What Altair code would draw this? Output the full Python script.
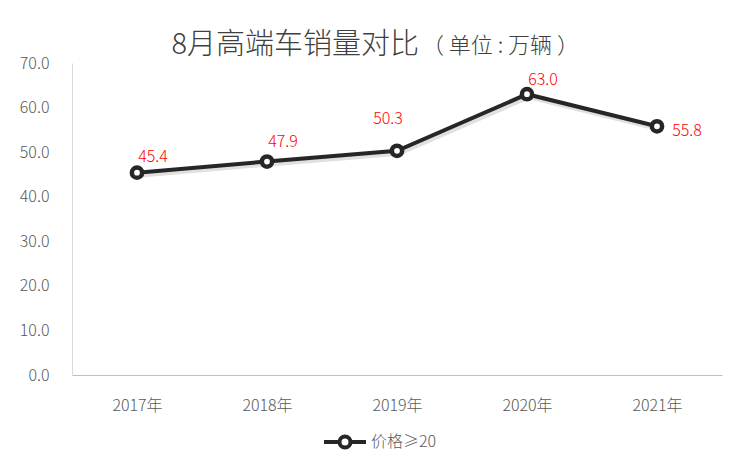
import altair as alt
import pandas as pd

years = ["2017年", "2018年", "2019年", "2020年", "2021年"]
sales = [45.4, 47.9, 50.3, 63.0, 55.8]
series_name = "价格≥20"
label_dx = [16, 16, -9, 16, 30]
label_dy = [-16, -20, -32, -14, 5]

df = pd.DataFrame({
    "year": years,
    "sales": sales,
    "series": [series_name] * len(years),
    "label": [f"{v:.1f}" for v in sales],
})

FONT = "Noto Sans CJK SC"
LINE_COLOR = "#262626"

x_enc = alt.X("year:N", sort=years, title=None,
              scale=alt.Scale(paddingOuter=0.5, paddingInner=0),
              axis=alt.Axis(labelAngle=0, ticks=False, domainColor="#BFBFBF",
                            labelColor="#595959", labelFontSize=16, labelFont=FONT,
                            labelFontWeight=300,
                            labelPadding=22, grid=False))
y_enc = alt.Y("sales:Q", title=None,
              scale=alt.Scale(domain=[0, 70]),
              axis=alt.Axis(values=[0, 10, 20, 30, 40, 50, 60, 70], format=".1f",
                            ticks=False, domainColor="#D9D9D9", grid=False,
                            labelColor="#595959", labelFontSize=16, labelFont=FONT,
                            labelFontWeight=300,
                            labelPadding=23))

base = alt.Chart(df)

shadow = base.mark_line(color="#A6A6A6", strokeWidth=4, opacity=0.35,
                        xOffset=2, yOffset=3).encode(x=x_enc, y=y_enc)

line = base.mark_line(strokeWidth=4).encode(
    x=x_enc, y=y_enc,
    color=alt.Color("series:N", scale=alt.Scale(range=[LINE_COLOR]),
                    legend=alt.Legend(
                        title=None, orient="none", legendX=250, legendY=356,
                        direction="horizontal",
                        symbolType="M-1,0L-0.262,0M0.262,0L1,0M-0.262,0A0.262,0.262,0,1,1,0.262,0A0.262,0.262,0,1,1,-0.262,0",
                        symbolSize=1764, symbolStrokeWidth=4, symbolFillColor="white",
                        symbolStrokeColor=LINE_COLOR,
                        labelFont=FONT, labelFontSize=16, labelFontWeight=300,
                        labelColor="#595959", labelOffset=3)),
)

points = base.mark_point(shape="circle", filled=True, fill="white", stroke=LINE_COLOR,
                         strokeWidth=4.5, size=105, opacity=1).encode(x=x_enc, y=y_enc)

label_layers = []
for i, yr in enumerate(years):
    label_layers.append(
        base.transform_filter(alt.datum.year == yr).mark_text(
            color="#FF0000", fontSize=16, font=FONT, fontWeight=300,
            dx=label_dx[i], dy=label_dy[i],
            baseline="middle", align="center"
        ).encode(x=x_enc, y=y_enc, text="label:N")
    )

title_main = alt.Chart(pd.DataFrame({"t": ["8月高端车销量对比"]})).mark_text(
    fontSize=29, font=FONT, fontWeight=300, color="#404040", align="right", baseline="middle"
).encode(x=alt.value(347), y=alt.value(-18), text="t:N")

title_unit = alt.Chart(pd.DataFrame({"t": ["（ 单位 : 万辆 ）"]})).mark_text(
    fontSize=22, font=FONT, fontWeight=300, color="#404040", align="left", baseline="middle"
).encode(x=alt.value(350), y=alt.value(-17), text="t:N")

chart = alt.layer(shadow, line, points, *label_layers, title_main, title_unit).properties(
    width=650, height=312,
    autosize=alt.AutoSizeParams(type="none"),
    padding={"left": 64, "top": 55, "right": 15, "bottom": 95},
).configure(background="white").configure_view(stroke=None)

chart.save("out.html", embed_options={"renderer": "svg", "actions": False})
